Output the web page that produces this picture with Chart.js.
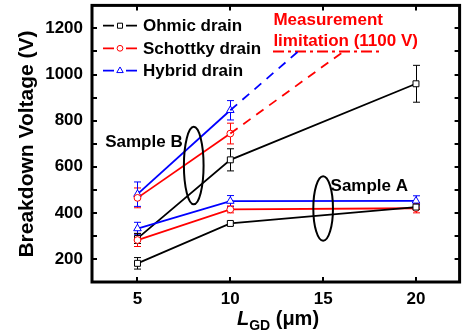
<!DOCTYPE html>
<html><head><meta charset="utf-8">
<script src="https://cdn.jsdelivr.net/npm/chart.js@4/dist/chart.umd.min.js"></script>
<style>html,body{margin:0;padding:0;background:#fff}canvas{display:block}</style>
</head><body>
<canvas id="c" width="465" height="334"></canvas>
<script>
// ---- data ----
const lgd = [5, 10, 20];                 // L_GD (µm)
const xTicks = [5, 10, 15, 20];
const yTicks = [200, 400, 600, 800, 1000, 1200];
const yMinorTicks = [200, 300, 400, 500, 600, 700, 800, 900, 1000, 1100, 1200];
const seriesNames = ['Ohmic drain', 'Schottky drain', 'Hybrid drain'];

// Sample A
const aOhmic = [181, 354, 425];
const aOhmicErr = [25, 9, 10];
const aSchottky = [282, 415, 420];
const aSchottkyErr = [28, 15, 20];
const aHybrid = [332, 451, 452];
const aHybridErr = [27, 24, 22];

// Sample B
const bOhmic = [289, 630, 960];
const bOhmicErr = [22, 48, 80];
const bSchottky = [465, 744];
const bSchottkyErr = [43, 45];
const bHybrid = [481, 845];
const bHybridErr = [53, 42];

// extrapolations up to the measurement limit (dashed)
const bSchottkyExtX = [10, 16.1];
const bSchottkyExtY = [744, 1100];
const bHybridExtX = [10, 13.65];
const bHybridExtY = [845, 1100];

// measurement limitation line
const limitX = [12.3, 18.1];
const limitY = [1100, 1100];

// ---- styling ----
const FONT = '"Liberation Sans", Arial, Helvetica, sans-serif';
const BLACK = '#000000', RED = '#ff0000', BLUE = '#0000ff';
const colors = [BLACK, RED, BLUE];
const styles = ['rect', 'circle', 'triangle'];
const radii = [4.2, 3.4, 4.4];

function pts(xs, ys) { return xs.map((x, i) => ({ x: x, y: ys[i] })); }

function markerDs(label, xs, ys, errs, k) {
  return {
    label: label, data: pts(xs, ys), errs: errs,
    showLine: true, borderColor: colors[k], borderWidth: 1.8,
    pointStyle: styles[k], pointRadius: radii[k], pointBorderWidth: 1,
    pointBorderColor: colors[k], pointBackgroundColor: '#ffffff',
    backgroundColor: '#ffffff', tension: 0
  };
}
function lineDs(xs, ys, color, dash, w) {
  return {
    data: pts(xs, ys), showLine: true, borderColor: color, borderWidth: w,
    borderDash: dash, pointRadius: 0, tension: 0
  };
}

const datasets = [
  lineDs(bSchottkyExtX, bSchottkyExtY, RED, [9, 7], 1.8),
  lineDs(bHybridExtX, bHybridExtY, BLUE, [9, 7], 1.8),
  lineDs(limitX, limitY, RED, [11, 4, 3, 4], 2),
  markerDs('A ' + seriesNames[0], lgd, aOhmic, aOhmicErr, 0),
  markerDs('A ' + seriesNames[1], lgd, aSchottky, aSchottkyErr, 1),
  markerDs('A ' + seriesNames[2], lgd, aHybrid, aHybridErr, 2),
  markerDs('B ' + seriesNames[0], lgd, bOhmic, bOhmicErr, 0),
  markerDs('B ' + seriesNames[1], lgd.slice(0, 2), bSchottky, bSchottkyErr, 1),
  markerDs('B ' + seriesNames[2], lgd.slice(0, 2), bHybrid, bHybridErr, 2)
];

const deco = {
  id: 'deco',
  beforeDatasetsDraw(chart) {
    const ctx = chart.ctx, xs = chart.scales.x, ys = chart.scales.y;
    ctx.save();
    chart.data.datasets.forEach(ds => {
      if (!ds.errs) return;
      ctx.strokeStyle = ds.borderColor; ctx.lineWidth = 1;
      ds.data.forEach((p, i) => {
        const px = Math.round(xs.getPixelForValue(p.x)) + 0.5;
        const y1 = ys.getPixelForValue(p.y + ds.errs[i]);
        const y2 = ys.getPixelForValue(p.y - ds.errs[i]);
        ctx.beginPath();
        ctx.moveTo(px, y1); ctx.lineTo(px, y2);
        ctx.moveTo(px - 3.5, y1); ctx.lineTo(px + 3.5, y1);
        ctx.moveTo(px - 3.5, y2); ctx.lineTo(px + 3.5, y2);
        ctx.stroke();
      });
    });
    ctx.restore();
  },
  afterDatasetsDraw(chart) {
    const ctx = chart.ctx, xs = chart.scales.x, ys = chart.scales.y;
    const a = chart.chartArea;
    ctx.save();
    // frame
    ctx.strokeStyle = BLACK; ctx.lineWidth = 3;
    ctx.strokeRect(a.left, a.top, a.right - a.left, a.bottom - a.top);
    // inward ticks
    ctx.lineWidth = 2;
    ctx.beginPath();
    yMinorTicks.forEach(v => {
      const py = Math.round(ys.getPixelForValue(v));
      ctx.moveTo(a.left, py); ctx.lineTo(a.left + 5, py);
      ctx.moveTo(a.right, py); ctx.lineTo(a.right - 5, py);
    });
    xTicks.forEach(v => {
      const px = Math.round(xs.getPixelForValue(v));
      ctx.moveTo(px, a.bottom); ctx.lineTo(px, a.bottom - 5);
      ctx.moveTo(px, a.top); ctx.lineTo(px, a.top + 5);
    });
    ctx.stroke();

    // ellipses
    ctx.lineWidth = 2;
    function ell(cx, cy, rx, ry) {
      const px = xs.getPixelForValue(cx), py = ys.getPixelForValue(cy);
      const rpx = Math.abs(xs.getPixelForValue(cx + rx) - px);
      const rpy = Math.abs(ys.getPixelForValue(cy + ry) - py);
      ctx.beginPath(); ctx.ellipse(px, py, rpx, rpy, 0, 0, Math.PI * 2); ctx.stroke();
    }
    ell(8.03, 605, 0.53, 168);
    ell(15.0, 419, 0.53, 140);

    // annotations
    ctx.font = 'bold 17px ' + FONT;
    ctx.textBaseline = 'middle'; ctx.textAlign = 'left';
    ctx.fillStyle = BLACK;
    ctx.fillText('Sample B', xs.getPixelForValue(3.26), ys.getPixelForValue(707));
    ctx.fillText('Sample A', xs.getPixelForValue(15.4), ys.getPixelForValue(516));
    ctx.fillStyle = RED;
    ctx.fillText('Measurement', xs.getPixelForValue(12.32), ys.getPixelForValue(1236));
    ctx.fillText('limitation (1100 V)', xs.getPixelForValue(12.32), ys.getPixelForValue(1146));

    // legend
    const rows = [25.7, 48.3, 70.7];
    seriesNames.forEach((name, k) => {
      const y = rows[k];
      ctx.strokeStyle = colors[k]; ctx.lineWidth = 1.8; ctx.setLineDash([]);
      ctx.beginPath();
      ctx.moveTo(103, y); ctx.lineTo(114, y);
      ctx.moveTo(126, y); ctx.lineTo(137, y);
      ctx.stroke();
      ctx.fillStyle = '#ffffff'; ctx.lineWidth = 1;
      Chart.helpers.drawPoint(ctx, {
        pointStyle: styles[k], radius: radii[k] * 0.85, borderWidth: 1, rotation: 0
      }, 120, y);
      ctx.fillStyle = BLACK;
      ctx.fillText(name, 143, y + 1);
    });

    // axis titles
    ctx.fillStyle = BLACK;
    ctx.save();
    ctx.translate(27.5, 144); ctx.rotate(-Math.PI / 2);
    ctx.textAlign = 'center'; ctx.textBaseline = 'middle';
    ctx.font = 'bold 21px ' + FONT;
    ctx.fillText('Breakdown Voltage (V)', 0, 0);
    ctx.restore();

    const fMain = 'bold 20px ' + FONT, fIt = 'italic bold 20px ' + FONT, fSub = 'bold 14px ' + FONT;
    ctx.textBaseline = 'alphabetic'; ctx.textAlign = 'left';
    ctx.font = fIt; const wL = ctx.measureText('L').width;
    ctx.font = fSub; const wS = ctx.measureText('GD').width;
    ctx.font = fMain; const wR = ctx.measureText(' (\u03bcm)').width;
    let x0 = 278 - (wL + wS + wR) / 2;
    const base = 325;
    ctx.font = fIt; ctx.fillText('L', x0, base); x0 += wL;
    ctx.font = fSub; ctx.fillText('GD', x0, base + 5); x0 += wS;
    ctx.font = fMain; ctx.fillText(' (\u03bcm)', x0, base);
    ctx.restore();
  }
};

new Chart(document.getElementById('c'), {
  type: 'scatter',
  data: { datasets: datasets },
  options: {
    responsive: false, animation: false, devicePixelRatio: 1,
    layout: { padding: { top: 5, right: 2, left: 0, bottom: 0 } },
    plugins: { legend: { display: false }, tooltip: { enabled: false } },
    scales: {
      x: {
        type: 'linear', min: 2.55, max: 22.35,
        afterBuildTicks: s => { s.ticks = xTicks.map(v => ({ value: v })); },
        afterFit: s => { s.height = 52; s.paddingLeft = 0; s.paddingRight = 0; },
        grid: { display: false, drawTicks: false },
        border: { display: false },
        ticks: { color: BLACK, padding: 7, maxRotation: 0, autoSkip: false,
                 callback: v => String(v),
                 font: { family: FONT, size: 17, weight: 'bold' } }
      },
      y: {
        type: 'linear', min: 100, max: 1300,
        afterBuildTicks: s => { s.ticks = yTicks.map(v => ({ value: v })); },
        afterFit: s => { s.width = 92; s.paddingTop = 0; s.paddingBottom = 0; },
        grid: { display: false, drawTicks: false },
        border: { display: false },
        ticks: { color: BLACK, padding: 9, autoSkip: false,
                 callback: v => String(v),
                 font: { family: FONT, size: 17, weight: 'bold' } }
      }
    }
  },
  plugins: [deco]
});
</script>
</body></html>
